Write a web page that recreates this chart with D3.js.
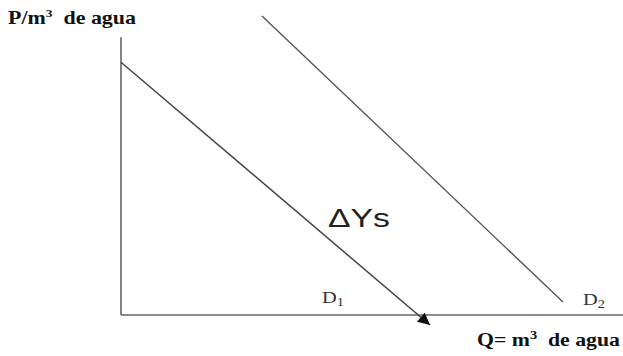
<!DOCTYPE html>
<html lang="es">
<head>
<meta charset="utf-8">
<script src="https://cdn.jsdelivr.net/npm/d3@7"></script>
<style>
  body { margin: 0; background: #fff; }
  .serif { font-family: "Liberation Serif", "DejaVu Serif", serif; font-weight: bold; fill: #111; }
</style>
</head>
<body>
<script>
var w = 623, h = 356;

// demand curves (quantity, price) in arbitrary units
var d1 = [[0, 9.1], [6.18, -0.36]];
var d2 = [[2.82, 10.76], [8.84, 0.47]];
var curveLabels = ["D", "D"];
var curveSubs = ["1", "2"];

var x = d3.scaleLinear().domain([0, 10]).range([121, 621]);
var y = d3.scaleLinear().domain([0, 10]).range([315, 37.2]);

var svg = d3.select("body").append("svg")
  .attr("width", w).attr("height", h);

svg.append("defs").append("marker")
  .attr("id", "arr")
  .attr("viewBox", "0 0 10 10")
  .attr("refX", 10).attr("refY", 5)
  .attr("markerWidth", 18).attr("markerHeight", 12)
  .attr("markerUnits", "userSpaceOnUse")
  .attr("orient", "auto")
  .append("path").attr("d", "M0,0L10,5L0,10z").attr("fill", "#111");

// axes
svg.append("line")
  .attr("x1", x(0)).attr("y1", y(10)).attr("x2", x(0)).attr("y2", y(0))
  .attr("stroke", "#666").attr("stroke-width", 1.6);
svg.append("line")
  .attr("x1", x(0)).attr("y1", y(0)).attr("x2", w).attr("y2", y(0))
  .attr("stroke", "#666").attr("stroke-width", 1.6);

var line = d3.line().x(function (d) { return x(d[0]); }).y(function (d) { return y(d[1]); });

svg.append("path").datum(d1)
  .attr("d", line).attr("fill", "none")
  .attr("stroke", "#444").attr("stroke-width", 1.5)
  .attr("marker-end", "url(#arr)");

svg.append("path").datum(d2)
  .attr("d", line).attr("fill", "none")
  .attr("stroke", "#555").attr("stroke-width", 1.4);

// curve labels
var lblPos = [[4.02, 0.43], [9.24, 0.36]];
lblPos.forEach(function (p, i) {
  var t = svg.append("g")
    .attr("transform", "translate(" + x(p[0]) + "," + y(p[1]) + ") scale(1.2,1)")
    .append("text")
    .attr("font-family", "Liberation Serif, DejaVu Serif, serif")
    .attr("font-size", 17).attr("fill", "#333")
    .text(curveLabels[i]);
  t.append("tspan").attr("font-size", 12).attr("dy", 3).text(curveSubs[i]);
});

svg.append("g")
  .attr("transform", "translate(" + x(4.14) + "," + y(3.16) + ") scale(1.3,1)")
  .append("text")
  .attr("font-family", "Liberation Sans, Arial, sans-serif")
  .attr("font-size", 26).attr("fill", "#222")
  .text("\u0394Ys");

// axis titles
var yt = svg.append("g").attr("transform", "translate(8,24) scale(1.22,1)")
  .append("text").attr("class", "serif").attr("font-size", 18);
yt.append("tspan").text("P/m");
yt.append("tspan").attr("font-size", 11).attr("dy", -7).text("3");
yt.append("tspan").attr("dy", 7).text("\u00a0 de agua");

var xt = svg.append("g").attr("transform", "translate(620,346) scale(1.21,1)")
  .append("text").attr("class", "serif").attr("font-size", 18)
  .attr("text-anchor", "end");
xt.append("tspan").text("Q= m");
xt.append("tspan").attr("font-size", 12).attr("dy", -7).text("3");
xt.append("tspan").attr("dy", 7).text("\u00a0 de agua");
</script>
</body>
</html>
